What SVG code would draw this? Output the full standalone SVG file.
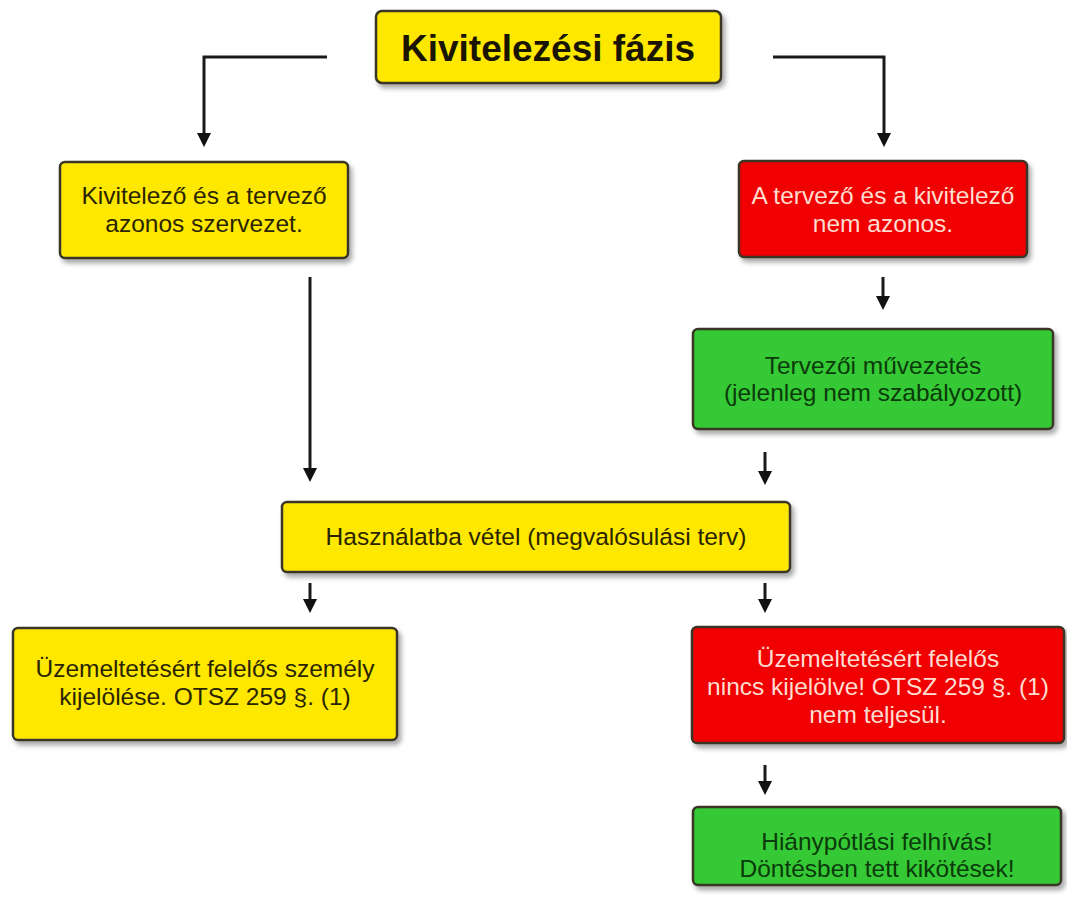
<svg xmlns="http://www.w3.org/2000/svg" width="1067" height="906" viewBox="0 0 1067 906">
<defs>
<filter id="sh" x="-10%" y="-20%" width="130%" height="150%">
<feDropShadow dx="3" dy="4" stdDeviation="2.5" flood-color="#000" flood-opacity="0.35"/>
</filter>
<marker id="ah" viewBox="0 0 14 14" refX="2" refY="7" markerWidth="14" markerHeight="14" markerUnits="userSpaceOnUse" orient="auto">
<path d="M0,0 L14,7 L0,14 Z" fill="#111"/>
</marker>
<style>
.box{stroke:#3a3628;stroke-width:2.5;filter:url(#sh)}
.y{fill:#FFE800}
.r{fill:#F00000}
.g{fill:#36C936}
.t{font-family:"Liberation Sans",Arial,sans-serif;font-size:24.5px;text-anchor:middle}
.ty{fill:#2a2500}
.tr{fill:#FFDCD0}
.tg{fill:#0B3A0B}
.c{fill:none;stroke:#1a1a1a;stroke-width:3}
</style>
</defs>
<rect width="1067" height="906" fill="#fff"/>
<g id="connectors">
<polyline class="c" points="327,57 204,57 204,135" marker-end="url(#ah)"/>
<polyline class="c" points="773,57 884,57 884,135" marker-end="url(#ah)"/>
<line class="c" x1="883" y1="277" x2="883" y2="298" marker-end="url(#ah)"/>
<line class="c" x1="765" y1="452" x2="765" y2="473" marker-end="url(#ah)"/>
<line class="c" x1="310" y1="277" x2="310" y2="470" marker-end="url(#ah)"/>
<line class="c" x1="310" y1="583" x2="310" y2="601" marker-end="url(#ah)"/>
<line class="c" x1="765" y1="583" x2="765" y2="601" marker-end="url(#ah)"/>
<line class="c" x1="765" y1="765" x2="765" y2="783" marker-end="url(#ah)"/>
</g>
<g id="title">
<rect class="box y" x="376" y="11" width="345" height="72" rx="6"/>
<text x="548" y="61" font-family="Liberation Sans,Arial,sans-serif" font-size="37" font-weight="bold" text-anchor="middle" fill="#1a1500">Kivitelezési fázis</text>
</g>
<g id="same-org">
<rect class="box y" x="60" y="162" width="288" height="96" rx="5"/>
<text class="t ty" x="204" y="204">Kivitelező és a tervező</text>
<text class="t ty" x="204" y="232">azonos szervezet.</text>
</g>
<g id="diff-org">
<rect class="box r" x="739" y="161" width="288" height="96" rx="5"/>
<text class="t tr" x="883" y="204">A tervező és a kivitelező</text>
<text class="t tr" x="883" y="232">nem azonos.</text>
</g>
<g id="muvezetes">
<rect class="box g" x="693" y="329" width="360" height="100" rx="5"/>
<text class="t tg" x="873" y="374">Tervezői művezetés</text>
<text class="t tg" x="873" y="401">(jelenleg nem szabályozott)</text>
</g>
<g id="hasznalatba">
<rect class="box y" x="282" y="502" width="508" height="70" rx="5"/>
<text class="t ty" x="536" y="545">Használatba vétel (megvalósulási terv)</text>
</g>
<g id="kijelolese">
<rect class="box y" x="13" y="628" width="384" height="112" rx="5"/>
<text class="t ty" x="205" y="677">Üzemeltetésért felelős személy</text>
<text class="t ty" x="205" y="705">kijelölése. OTSZ 259 §. (1)</text>
</g>
<g id="nincs-kijelolve">
<rect class="box r" x="692" y="627" width="372" height="116" rx="5"/>
<text class="t tr" x="878" y="667">Üzemeltetésért felelős</text>
<text class="t tr" x="878" y="695">nincs kijelölve! OTSZ 259 §. (1)</text>
<text class="t tr" x="878" y="723">nem teljesül.</text>
</g>
<g id="hianypotlas">
<rect class="box g" x="693" y="807" width="368" height="78" rx="5"/>
<text class="t tg" x="877" y="850">Hiánypótlási felhívás!</text>
<text class="t tg" x="877" y="877">Döntésben tett kikötések!</text>
</g>
</svg>
